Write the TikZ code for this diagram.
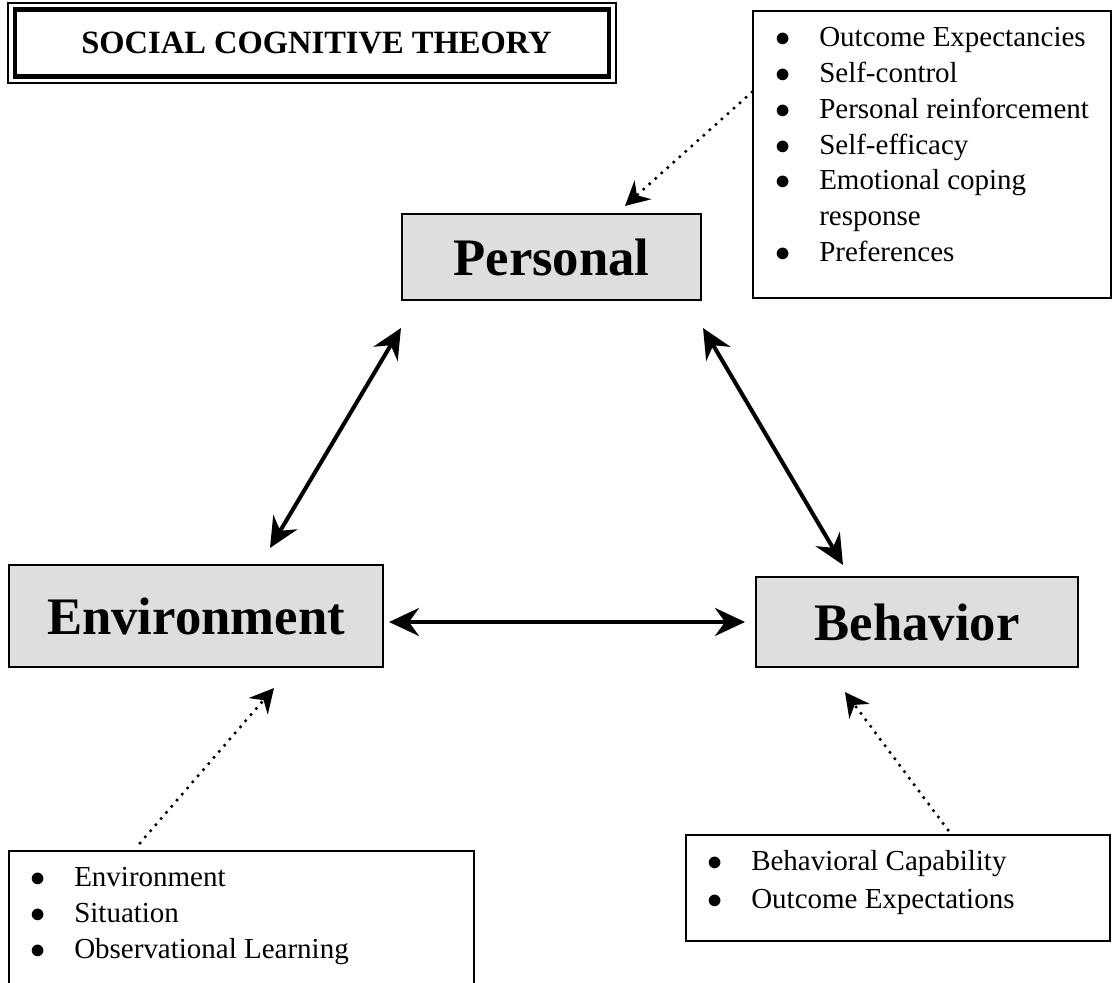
\documentclass[tikz,border=0pt]{standalone}
\usepackage{fontspec}
\setmainfont{Liberation Serif}
\usetikzlibrary{arrows.meta,calc}

\definecolor{boxgray}{gray}{0.87}
\newcommand{\itm}[1]{\makebox[25pt][l]{$\bullet$}#1}

\begin{document}
\begin{tikzpicture}[x=0.02cm, y=-0.02cm,
    factor/.style={draw, line width=1.2pt, fill=boxgray, inner sep=0pt,
        font=\fontsize{30}{36}\selectfont\bfseries},
    listbox/.style={draw, line width=1.1pt, inner sep=0pt, anchor=north west},
    listtext/.style={align=left, inner sep=0pt, anchor=north west,
        font=\fontsize{16.5}{20.4}\selectfont},
    link/.style={<->, line width=2.3pt, >={Stealth[length=0.6cm, width=0.56cm, inset=0.2cm]}},
    hint/.style={->, line width=2pt, line cap=round, dash pattern=on 0pt off 4.6pt,
        >={Stealth[length=0.48cm, width=0.5cm, inset=0.16cm]}}]

    \useasboundingbox (0,0) rectangle (1112,983);

    % Title with its double frame
    \node [draw, line width=2.3pt, minimum width=11.9cm, minimum height=1.34cm,
           font=\fontsize{18.5}{22}\selectfont\bfseries] (title) at (312,43) {\hspace*{0.18cm}SOCIAL COGNITIVE THEORY};
    \draw [line width=1.1pt] ([shift={(-4.5,-4.5)}]title.north west) rectangle ([shift={(4.5,4.5)}]title.south east);

    % Boxes {personal, environment, behavior}
    \node [factor, minimum width=5.98cm, minimum height=1.72cm] (personal)    at (551.5,257) {Personal};
    \node [factor, minimum width=7.48cm, minimum height=2.04cm] (environment) at (196,616)   {Environment};
    \node [factor, minimum width=6.44cm, minimum height=1.8cm]  (behavior)    at (917,622)   {Behavior};

    % Lists
    \node [listbox, minimum width=7.16cm, minimum height=5.74cm] (outcome)    at (752,10)  {};
    \node [listbox, minimum width=9.3cm,  minimum height=3.2cm]  (situation)  at (8,850)   {};
    \node [listbox, minimum width=8.48cm, minimum height=2.12cm] (capability) at (685,834) {};

    \node [listtext] (outcomelist) at (775,27) {\itm{Outcome Expectancies}\\
        \itm{Self-control}\\
        \itm{Personal reinforcement}\\
        \itm{Self-efficacy}\\
        \itm{Emotional coping}\\
        \hspace{25pt}response\\
        \itm{Preferences}};
    \node [listtext] (situationlist) at (30,867) {\itm{Environment}\\
        \itm{Situation}\\
        \itm{Observational Learning}};
    \node [listtext, font=\fontsize{16.5}{21.5}\selectfont] (capabilitylist) at (707,850) {\itm{Behavioral Capability}\\
        \itm{Outcome Expectations}};

    % Paths
    \draw [link] ($(environment.north)+(74,-16)$) -- ($(personal.south west)+(0,27)$);
    \draw [link] ($(personal.south east)+(1,27)$) -- ($(behavior.north)+(-74,-11)$);
    \draw [link] ($(environment.east |- behavior.west)+(5,0)$) -- ($(behavior.west)+(-10,0)$);

    \draw [hint] ($(outcome.north west)+(0,82)$)     -- ($(personal.north)+(73.5,-7)$);
    \draw [hint] ($(situation.north west)+(132,-7)$) -- ($(environment.south)+(78,20)$);
    \draw [hint] ($(capability.north west)+(263,-4)$) -- ($(behavior.south)+(-72,24)$);

\end{tikzpicture}
\end{document}
